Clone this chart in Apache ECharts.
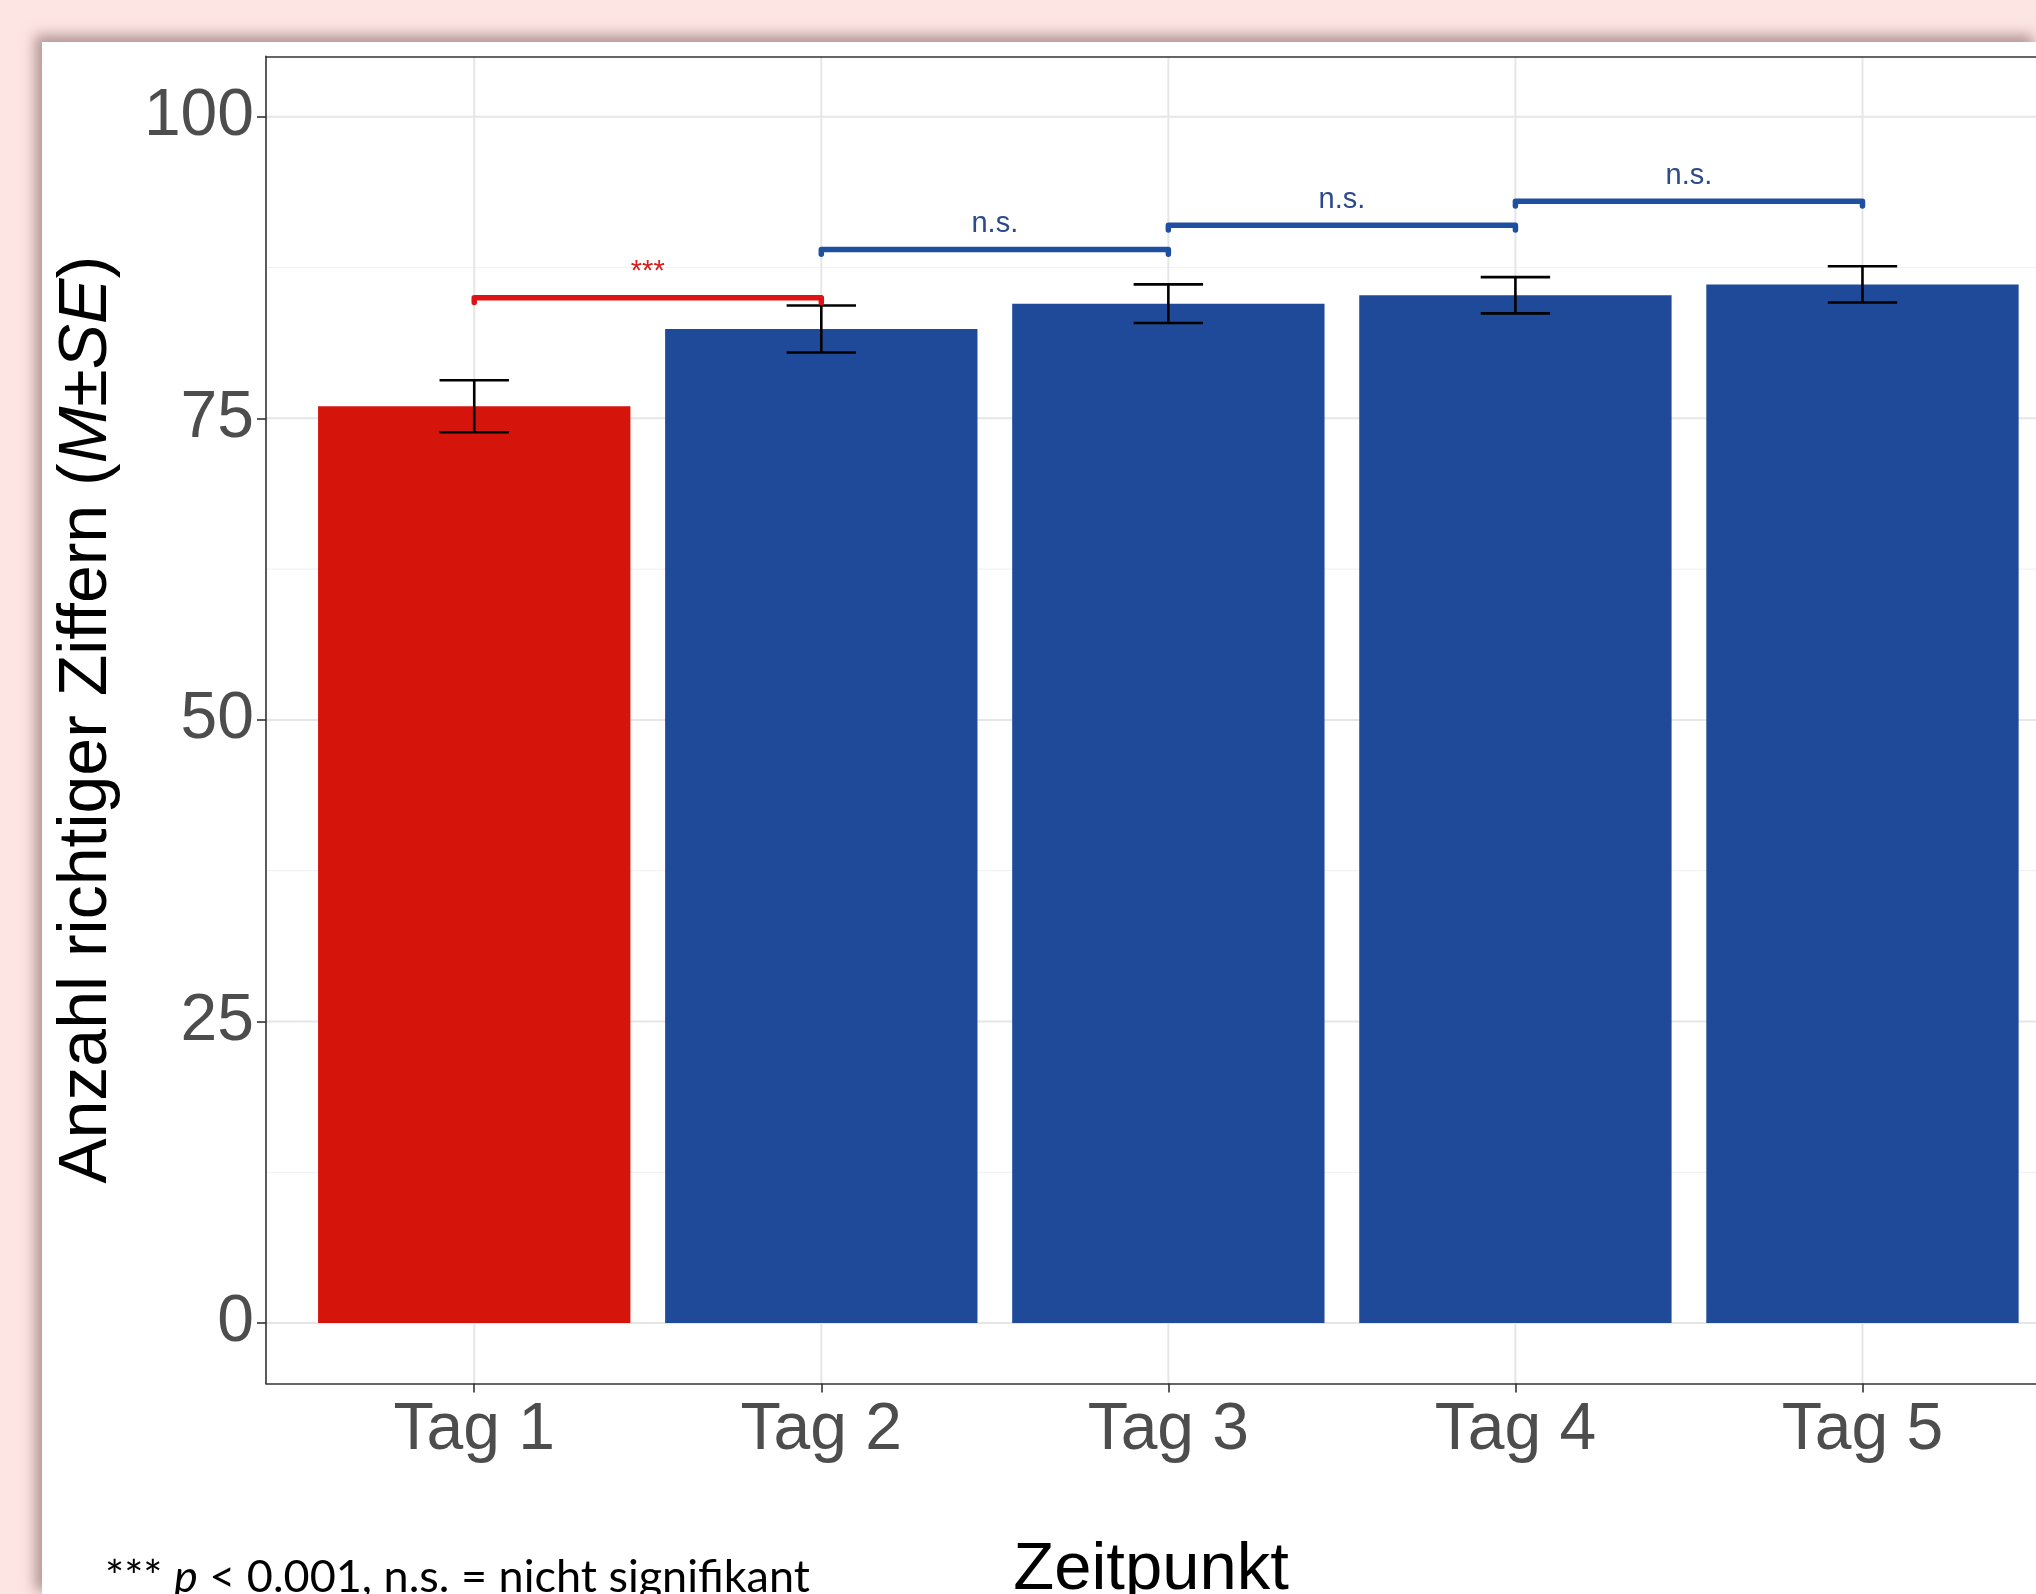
<!DOCTYPE html>
<html><head><meta charset="utf-8">
<script src="https://cdn.jsdelivr.net/npm/echarts@6/dist/echarts.min.js"></script>
<style>
html,body{margin:0;padding:0;background:#fde5e4;width:2036px;height:1594px;overflow:hidden;position:relative}
#panel{position:absolute;left:42px;top:42px;right:0;bottom:0;background:#fff;box-shadow:-5px -5px 12px 2px rgba(120,85,85,0.55);}
#chart{position:absolute;left:0;top:0;width:2036px;height:1594px;}
</style></head><body>
<div id="panel"></div>
<div id="chart"></div>
<script>
const categories = ['Tag 1', 'Tag 2', 'Tag 3', 'Tag 4', 'Tag 5'];
const means = [76.0, 82.4, 84.5, 85.2, 86.1];
const se = [2.15, 1.95, 1.6, 1.5, 1.5];
const barColors = ['#d5150c', '#1f4a99', '#1f4a99', '#1f4a99', '#1f4a99'];
const yTicks = [0, 25, 50, 75, 100];
const yMinor = [12.5, 37.5, 62.5, 87.5];
const bracketFrom = [1, 2, 3, 4];
const bracketTo = [2, 3, 4, 5];
const bracketY = [85, 89, 91, 93];
const bracketLabels = ['***', 'n.s.', 'n.s.', 'n.s.'];
const bracketColors = ['#e01212', '#1f4fa0', '#1f4fa0', '#1f4fa0'];
const bracketTextColors = ['#d62020', '#2a4a8c', '#2a4a8c', '#2a4a8c'];

const FONT = "'Liberation Sans', Arial, sans-serif";
const xIdx = categories.map((c, i) => i + 1);
const X_MIN = 0.4, X_MAX = 5.5; // panel is cropped at the right edge of the picture

const chart = echarts.init(document.getElementById('chart'), null, {renderer: 'canvas'});

function hLine(color, width) {
  return function (params, api) {
    const v = api.value(1);
    const a = api.coord([X_MIN, v]);
    const b = api.coord([X_MAX, v]);
    return {type: 'line', shape: {x1: a[0], y1: a[1], x2: b[0], y2: b[1]},
      style: {stroke: color, lineWidth: width}, silent: true};
  };
}
const border = {color: '#333333', width: 1.6};

const option = {
  animation: false,
  backgroundColor: 'transparent',
  grid: {left: 266, top: 56.4, bottom: 210.6, right: 0, show: false, outerBoundsMode: 'none', containLabel: false},
  xAxis: [{
    type: 'value', min: X_MIN, max: X_MAX, position: 'bottom',
    axisLine: {show: true, onZero: false, lineStyle: border},
    splitLine: {show: false},
    axisTick: {show: true, customValues: xIdx, length: 9, lineStyle: border},
    axisLabel: {customValues: xIdx, formatter: v => categories[Math.round(v) - 1],
      fontSize: 66, color: '#4d4d4d', fontFamily: FONT, margin: 14},
    name: 'Zeitpunkt', nameLocation: 'middle', nameGap: 154,
    nameTextStyle: {fontSize: 67, color: '#000', fontFamily: FONT}
  }, {
    type: 'value', min: X_MIN, max: X_MAX, position: 'top',
    axisLine: {show: true, onZero: false, lineStyle: border},
    splitLine: {show: false}, axisTick: {show: false}, axisLabel: {show: false}
  }],
  yAxis: {
    type: 'value', min: -5, max: 105,
    axisLine: {show: true, onZero: false, lineStyle: border},
    splitLine: {show: false},
    axisTick: {show: true, customValues: yTicks, length: 9, lineStyle: border},
    axisLabel: {customValues: yTicks, fontSize: 66, color: '#4d4d4d', fontFamily: FONT, margin: 12},
    name: 'Anzahl richtiger Ziffern ({i|M}±{i|SE})', nameLocation: 'middle', nameGap: 145, nameRotate: 90,
    nameTextStyle: {fontSize: 68, color: '#000', fontFamily: FONT,
      rich: {i: {fontStyle: 'italic', fontSize: 68, color: '#000', fontFamily: FONT}}}
  },
  graphic: [{
    type: 'text', left: 105, top: 1555, silent: true,
    style: {text: '*** {i|p} < 0.001, n.s. = nicht signifikant', fill: '#000',
      font: "45px Lato, 'Open Sans', sans-serif",
      rich: {i: {fontStyle: 'italic', fontSize: 45, fontFamily: "Lato, 'Open Sans', sans-serif", fill: '#000'}}}
  }],
  series: [
    {type: 'custom', z: 0, silent: true, data: yMinor.map(v => [1, v]), renderItem: hLine('#f2f2f2', 1.2)},
    {type: 'custom', z: 0, silent: true, data: yTicks.map(v => [1, v]), renderItem: hLine('#e6e6e6', 2)},
    {type: 'custom', z: 0, silent: true, data: xIdx.map(v => [v, 0]),
      renderItem: function (params, api) {
        const x = api.value(0);
        const a = api.coord([x, -5]);
        const b = api.coord([x, 105]);
        return {type: 'line', shape: {x1: a[0], y1: a[1], x2: b[0], y2: b[1]},
          style: {stroke: '#e6e6e6', lineWidth: 2}, silent: true};
      }},
    {type: 'custom', z: 2, data: xIdx.map((x, i) => [x, means[i]]),
      renderItem: function (params, api) {
        const x = api.value(0), y = api.value(1);
        const p0 = api.coord([x - 0.45, y]);
        const p1 = api.coord([x + 0.45, 0]);
        return {type: 'rect', shape: {x: p0[0], y: p0[1], width: p1[0] - p0[0], height: p1[1] - p0[1]},
          style: {fill: barColors[params.dataIndex]}};
      }},
    {type: 'custom', z: 3, data: xIdx.map((x, i) => [x, means[i] - se[i], means[i] + se[i]]),
      renderItem: function (params, api) {
        const x = api.value(0), lo = api.value(1), hi = api.value(2);
        const a = api.coord([x, lo]), b = api.coord([x, hi]);
        const l = api.coord([x - 0.1, lo])[0], r = api.coord([x + 0.1, lo])[0];
        const st = {stroke: '#000', lineWidth: 2.6};
        return {type: 'group', children: [
          {type: 'line', shape: {x1: a[0], y1: a[1], x2: b[0], y2: b[1]}, style: st},
          {type: 'line', shape: {x1: l, y1: a[1], x2: r, y2: a[1]}, style: st},
          {type: 'line', shape: {x1: l, y1: b[1], x2: r, y2: b[1]}, style: st}
        ]};
      }},
    {type: 'custom', z: 4, data: bracketFrom.map((f, i) => [f, bracketY[i], bracketTo[i]]),
      renderItem: function (params, api) {
        const f = api.value(0), y = api.value(1), t = api.value(2);
        const i = params.dataIndex;
        const p1 = api.coord([f, y - 0.4]), p2 = api.coord([f, y]), p3 = api.coord([t, y]), p4 = api.coord([t, y - 0.4]);
        const mid = api.coord([(f + t) / 2, y]);
        return {type: 'group', children: [
          {type: 'polyline', shape: {points: [p1, p2, p3, p4]},
            style: {stroke: bracketColors[i], lineWidth: 5.5, lineJoin: 'round', lineCap: 'round', fill: null}},
          {type: 'text', x: mid[0], y: mid[1] - 11,
            style: {text: bracketLabels[i], fill: bracketTextColors[i], font: "29px " + FONT,
              align: 'center', verticalAlign: 'bottom'}}
        ]};
      }}
  ]
};
chart.setOption(option);
</script>
</body></html>
